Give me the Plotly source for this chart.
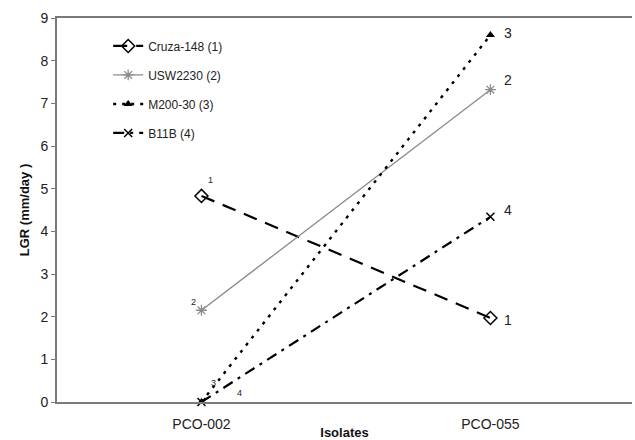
import plotly.graph_objects as go

isolates = ["PCO-002", "PCO-055"]
cruza = [4.83, 1.97]
usw = [2.15, 7.32]
m200 = [0.0, 8.6]
b11b = [0.0, 4.34]

series = [
    ("Cruza-148 (1)", cruza, dict(color="black", width=2.2, dash="14px,9px"),
     dict(symbol="diamond-open", size=10, color="black", line=dict(width=1.5))),
    ("USW2230 (2)", usw, dict(color="#8a8a8a", width=1.3, dash="solid"),
     dict(symbol="asterisk-open", size=9, color="#8a8a8a", line=dict(width=1.3, color="#8a8a8a"))),
    ("M200-30 (3)", m200, dict(color="black", width=2.4, dash="3px,6px"),
     dict(symbol="triangle-up", size=8, color="black")),
    ("B11B (4)", b11b, dict(color="black", width=2.2, dash="11px,6px,3px,6px"),
     dict(symbol="x-thin-open", size=8, color="black", line=dict(width=1.5))),
]

fig = go.Figure()
for i, (name, vals, ln, mk) in enumerate(series):
    fig.add_trace(go.Scatter(x=isolates, y=vals, mode="lines+markers", name=name,
                             line=ln, marker=mk, legendgroup=f"g{i}", cliponaxis=False))

# small labels near PCO-002 points (text, y value, x shift px, y shift px)
left_labels = [("1", cruza[0], 9, 16), ("2", usw[0], -8, 8),
               ("3", m200[0], 12, 19), ("4", b11b[0], 38, 9)]
for txt, yv, dx, dy in left_labels:
    fig.add_annotation(x=isolates[0], y=yv, text=txt, showarrow=False, xshift=dx, yshift=dy,
                       font=dict(size=9, color="#222"))
right_labels = [("1", cruza[1], 18, -2), ("2", usw[1], 18, 10), ("3", m200[1], 18, 2), ("4", b11b[1], 18, 7)]
for txt, yv, dx, dy in right_labels:
    fig.add_annotation(x=isolates[1], y=yv, text=txt, showarrow=False, xshift=dx, yshift=dy,
                       font=dict(size=14, color="#222"))

fig.update_layout(
    width=635, height=440,
    margin=dict(l=57, r=3, t=18, b=38),
    plot_bgcolor="white", paper_bgcolor="white",
    font=dict(family="Liberation Sans, Arial, sans-serif", size=13, color="#222"),
    showlegend=True,
    legend=dict(x=0.089, y=0.965, xanchor="left", yanchor="top", bgcolor="rgba(0,0,0,0)",
                font=dict(size=12, color="#222"), tracegroupgap=10),
    xaxis=dict(type="category", range=[-0.5, 1.49], showgrid=False, automargin=False,
               zeroline=False, showline=True, linecolor="#7a7a7a", linewidth=2, mirror=True,
               ticks="", ticklabelstandoff=8, tickfont=dict(size=14, color="#222"),
               title=dict(text="<b>Isolates</b>", font=dict(size=13, color="#111"), standoff=0)),
    yaxis=dict(range=[0, 9], dtick=1, showgrid=False, zeroline=False, showline=True, automargin=False,
               linecolor="#7a7a7a", linewidth=2, ticks="outside", ticklen=4, tickcolor="#7a7a7a",
               tickfont=dict(size=14, color="#222"),
               title=dict(text="<b>LGR (mm/day )</b>", font=dict(size=13, color="#111"), standoff=8)),
)
fig.write_html("out.html")
